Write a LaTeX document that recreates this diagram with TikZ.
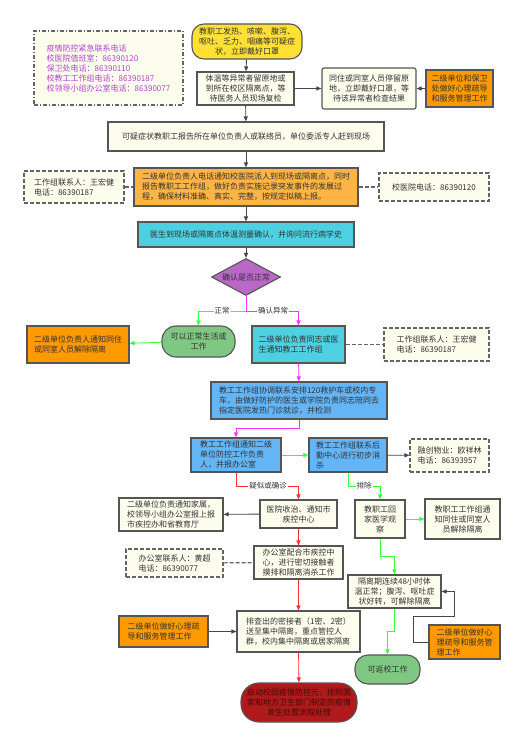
\documentclass[tikz,border=0pt]{standalone}
\usepackage{fontspec}
\setmainfont{Noto Sans CJK SC}
\usetikzlibrary{arrows.meta,shapes.geometric,calc}
\definecolor{cream}{RGB}{253,253,238}
\definecolor{bordergray}{RGB}{85,85,85}
\definecolor{dashgray}{RGB}{100,100,100}
\definecolor{textgray}{RGB}{51,51,51}
\definecolor{yellowbox}{RGB}{255,224,51}
\definecolor{orangebox}{RGB}{255,153,0}
\definecolor{lightorange}{RGB}{255,180,70}
\definecolor{cyanbox}{RGB}{77,208,225}
\definecolor{purplebox}{RGB}{186,104,200}
\definecolor{greenbox}{RGB}{129,199,132}
\definecolor{bluebox}{RGB}{100,181,246}
\definecolor{redbox}{RGB}{176,26,26}
\definecolor{redtext}{RGB}{70,10,10}
\definecolor{lmag}{RGB}{255,51,255}
\definecolor{lgreen}{RGB}{60,255,60}
\definecolor{lred}{RGB}{255,50,50}
\definecolor{ldark}{RGB}{70,70,70}
\definecolor{purpletext}{RGB}{176,68,204}
\begin{document}
\begin{tikzpicture}[x=1pt,y=-1pt,
  base/.style={font=\fontsize{8}{10}\selectfont, text=textgray, inner sep=2pt, align=center},
  box/.style={base, draw=bordergray, line width=1.1pt, fill=cream},
  ybox/.style={box, fill=yellowbox, rounded corners=12pt},
  obox/.style={box, fill=orangebox},
  cbox/.style={box, fill=cyanbox},
  bbox/.style={box, fill=bluebox},
  gbox/.style={box, fill=greenbox, rounded corners=13pt},
  rbox/.style={box, fill=redbox, text=redtext, rounded corners=18pt},
  dbox/.style={base, draw=dashgray, line width=1.1pt, fill=cream, dash pattern=on 4pt off 2pt},
  arr/.style={-{Triangle[length=5pt,width=4pt]}, line width=0.9pt},
  dline/.style={draw=dashgray, line width=1.1pt, dash pattern=on 4pt off 2pt},
  lab/.style={font=\fontsize{7.5}{9}\selectfont, text=textgray, fill=white, inner sep=1pt}
]
\useasboundingbox (0,0) rectangle (517,738);
\fill[white] (0,0) rectangle (517,738);

% row 1
\node[dbox, dash pattern=on 4pt off 2pt on 1pt off 2pt, text=purpletext, align=left, minimum width=149pt, minimum height=74pt] (contact) at (108.5,68) {疫情防控紧急联系电话\\校医院值班室：86390120\\保卫处电话：86390110\\校教工工作组电话：86390187\\校领导小组办公室电话：86390077};
\node[ybox, minimum width=110pt, minimum height=35pt] (start) at (247,41.5) {教职工发热、咳嗽、腹泻、\\呕吐、乏力、咽痛等可疑症\\状，立即戴好口罩};
\node[box, minimum width=97pt, minimum height=33pt] (b2) at (245.5,88.5) {体温等异常者留原地或\\到所在校区隔离点，等\\待医务人员现场复检};
\node[box, rounded corners=2pt, minimum width=94pt, minimum height=41pt] (b3) at (369,88.5) {同住或同室人员停留原\\地，立即戴好口罩，等\\待该异常者检查结果};
\node[obox, minimum width=67pt, minimum height=37pt] (o1) at (459.5,88.5) {二级单位和保卫\\处做好心理疏导\\和服务管理工作};

\node[box, minimum width=276pt, minimum height=29pt] (b5) at (246,136.5) {可疑症状教职工报告所在单位负责人或联络员，单位委派专人赶到现场};
\node[box, fill=lightorange, align=left, minimum width=224pt, minimum height=38pt] (b6) at (246,187) {二级单位负责人电话通知校医院派人到现场或隔离点，同时\\报告教职工工作组，做好负责实施记录突发事件的发展过\\程，确保材料准确、真实、完整，按规定拟稿上报。};
\node[dbox, align=left, minimum width=100pt, minimum height=32pt] (d1) at (74,187) {工作组联系人：王宏健\\电话：86390187};
\node[dbox, minimum width=110pt, minimum height=28pt] (d2) at (434,187) {校医院电话：86390120};

\node[cbox, minimum width=216pt, minimum height=25pt] (cy1) at (246,234.5) {医生到现场或隔离点体温测量确认，并询问流行病学史};
\node[base, shape=diamond, draw=bordergray, line width=1.1pt, fill=purplebox, aspect=1.86, inner sep=0pt, minimum width=69pt, minimum height=37pt] (dia) at (246,277) {确认是否正常};

\node[gbox, rounded corners=14pt, minimum width=73pt, minimum height=31pt] (g1) at (198.5,341.5) {可以正常生活或\\工作};
\node[obox, align=left, minimum width=102pt, minimum height=37pt] (o2) at (78,344.5) {二级单位负责人通知同住\\或同室人员解除隔离};
\node[cbox, align=left, minimum width=93pt, minimum height=37pt] (cy2) at (298.5,344.5) {二级单位负责同志或医\\生通知教工工作组};
\node[dbox, align=left, minimum width=105pt, minimum height=33pt] (d3) at (436.5,344.5) {工作组联系人：王宏健\\电话：86390187};

\node[bbox, align=left, minimum width=176pt, minimum height=37pt] (bl1) at (299,400.5) {教工工作组协调联系安排120救护车或校内专\\车，由做好防护的医生或学院负责同志陪同去\\指定医院发热门诊就诊，并检测};
\node[bbox, align=left, minimum width=90pt, minimum height=34pt] (bl2) at (236,455) {教工工作组通知二级\\单位防控工作负责\\人，并报办公室};
\node[bbox, align=left, minimum width=78pt, minimum height=34pt] (bl3) at (348,455) {教工工作组联系后\\勤中心进行初步消\\杀};
\node[dbox, align=left, minimum width=79pt, minimum height=33pt] (d4) at (449.5,455.5) {融创物业：欧祥林\\电话：86393957};

\node[box, minimum width=77pt, minimum height=28pt] (c1) at (298.5,514) {医院收治、通知市\\疾控中心};
\node[box, align=left, minimum width=104pt, minimum height=33pt] (c2) at (171,514.5) {二级单位负责通知家属，\\校领导小组办公室报上报\\市疾控办和省教育厅};
\node[box, minimum width=50pt, minimum height=38pt] (c3) at (380,519) {教职工回\\家医学观\\察};
\node[box, minimum width=75pt, minimum height=40pt] (c4) at (462.5,519) {教职工工作组通\\知同住或同室人\\员解除隔离};
\node[box, minimum width=89pt, minimum height=33pt] (c5) at (298.5,562.5) {办公室配合市疾控中\\心，进行密切接触者\\摸排和隔离消杀工作};
\node[dbox, align=left, minimum width=97pt, minimum height=28pt] (d5) at (174.5,563) {办公室联系人：黄超\\电话：86390077};
\node[box, minimum width=93pt, minimum height=33pt] (c6) at (394.5,591.5) {隔离期连续48小时体\\温正常；腹泻、呕吐症\\状好转，可解除隔离};
\node[box, align=left, minimum width=123pt, minimum height=41pt] (c7) at (298.5,631.5) {排查出的密接者（1密、2密）\\送至集中隔离，重点管控人\\群，校内集中隔离或居家隔离};
\node[obox, align=left, minimum width=89pt, minimum height=31pt] (o3) at (163.5,631.5) {二级单位做好心理疏\\导和服务管理工作};
\node[gbox, minimum width=65pt, minimum height=29pt] (g2) at (387.5,669.5) {可返校工作};
\node[obox, align=left, minimum width=71pt, minimum height=34pt] (o4) at (464.5,642) {二级单位做好心\\理疏导和服务管\\理工作};
\node[rbox, minimum width=116pt, minimum height=39pt] (r1) at (299,702.5) {启动校园疫情防控元，按照国\\家和地方卫生部门制定的疫情\\发生处置流程处理};

% connectors
\draw[arr, ldark] (start) -- (b2);
\draw[arr, ldark] (b2) -- (b3);
\draw[arr, ldark] (o1) -- (b3);
\draw[arr, ldark] (b2) -- (b5);
\draw[arr, ldark] (b5) -- (b6);
\draw[dline] (d1) -- (b6);
\draw[dline] (b6) -- (d2);
\draw[arr, ldark] (b6) -- (cy1);
\draw[arr, ldark] (cy1) -- (dia);
\coordinate (split) at (246,311);
\draw[arr, lgreen] (split) -| (g1.north);
\draw[arr, lmag] (dia.south) -- (split) -| (cy2.north);
\node[lab] (lnorm) at (222,311) {正常};
\node[lab] (labn) at (273,311) {确认异常};
\draw[arr, lgreen] (g1) -- (o2);
\draw[dline] (cy2) -- (d3);
\draw[arr, lmag] (cy2) -- (bl1);
\draw[arr, lmag] (bl1.south) -- ++(0,9) -| (bl2.north);
\draw[arr, lgreen] (bl2) -- (bl3);
\draw[arr, ldark] (bl3) -- (d4);
\draw[arr, lred] (bl2.south) -- ++(0,14) -| (c1.north);
\node[lab] (lsusp) at (268,486) {疑似或确诊};
\draw[arr, lgreen] (bl3.south) -- ++(0,14) -| (c3.north);
\node[lab] (lexcl) at (364,486) {排除};
\draw[arr, ldark] (c1) -- (c2);
\draw[arr, lgreen] (c3) -- (c4);
\draw[arr, lred] (c1) -- (c5);
\draw[dline] (d5) -- (c5);
\draw[arr, lgreen] (c3.south) -- ++(0,18) -| (c6.north);
\draw[arr, lred] (c5) -- (c7);
\draw[arr, ldark] (o3) -- (c7);
\draw[arr, lgreen] (c6.south) -- ++(0,23) -| (g2.north);
\draw[arr, ldark] (o4.west) -- ++(-15,0) -- ++(0,-26) -- ++(41,0) |- (c6.east);
\draw[arr, lred] (c7) -- (r1);
\end{tikzpicture}
\end{document}
